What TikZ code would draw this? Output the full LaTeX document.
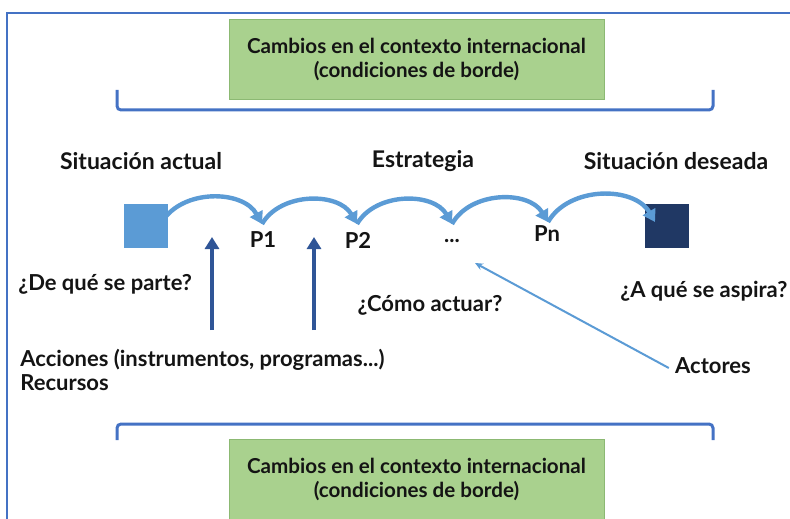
\documentclass[tikz,border=0pt]{standalone}
\usepackage{fontspec}
\setmainfont{Lato}
\usepackage{tikz}
\usetikzlibrary{arrows.meta,positioning}
\definecolor{rim}{RGB}{68,114,196}
\definecolor{leaf}{RGB}{169,209,142}
\definecolor{leafline}{RGB}{140,185,115}
\definecolor{sky}{RGB}{91,155,213}
\definecolor{navy}{RGB}{32,56,100}
\definecolor{deep}{RGB}{47,85,151}
\definecolor{ink}{RGB}{20,20,20}
\tikzset{
  band/.style={rectangle,draw=leafline,fill=leaf,minimum width=187.5pt,minimum height=40pt,
    align=center,font=\bfseries\fontsize{10.3}{12}\selectfont,text=ink,inner sep=0pt},
  hdr/.style={font=\bfseries\fontsize{11.5}{12}\selectfont,text=ink,inner sep=0pt},
  txt/.style={font=\bfseries\fontsize{11}{12}\selectfont,text=ink,inner sep=0pt},
  sq/.style={rectangle,minimum size=22pt,inner sep=0pt},
  hop/.style={-{Triangle[length=6pt,width=7pt]},line width=2.2pt,draw=sky},
  push/.style={-{Triangle[length=6pt,width=7pt]},line width=2.2pt,draw=deep},
  aim/.style={-{Stealth[length=4pt,width=3.5pt]},line width=1pt,draw=sky},
  brk/.style={line width=1.5pt,draw=rim,rounded corners=2pt},
}

\begin{document}
\begin{tikzpicture}[x=0.5pt,y=0.5pt]
\useasboundingbox (0,0) rectangle (790,-518);
\clip (0,0) rectangle (790,-518);
% frame and borders
\draw[line width=1pt,draw=rim] (7,-530) |- (800,-13);
\node[band] (topbox) at (416.5,-59) {Cambios en el contexto internacional\\(condiciones de borde)};
\draw[brk] (117,-90) |- (713,-110) -- (713,-90);
\draw[brk] (117,-440) |- (713,-424) -- (713,-440);
\node[band] (botbox) at (416.5,-479) {Cambios en el contexto internacional\\(condiciones de borde)};
% headings
\node[hdr] (actual) at (141,-161) {Situación actual};
\node[hdr] (estra) at (423,-161) {Estrategia};
\node[hdr] (deseada) at (676,-161) {Situación deseada};
% situations and steps
\node[sq,fill=sky] (start) at (145.5,-226) {};
\node[sq,fill=navy] (goal) at (667,-226) {};
\node[txt] (p1) at (263,-240) {P1};
\node[txt] (p2) at (358,-240) {P2};
\node[txt] (pdots) at (452,-241) {...};
\node[txt] (pn) at (547,-234) {Pn};
\coordinate (k0) at (162,-222);
\coordinate (k1) at (262,-224);
\coordinate (k2) at (357,-224);
\coordinate (k3) at (452,-224);
\coordinate (k4) at (548,-222);
\coordinate (k5) at (655,-222);
\foreach \a/\b in {k0/k1,k1/k2,k2/k3,k3/k4,k4/k5}
  \draw[hop] (\a) to[bend left=60] (\b);
% questions
\node[txt,anchor=west] (parte) at (18,-284) {¿De qué se parte?};
\node[txt] (como) at (430,-305) {¿Cómo actuar?};
\node[txt,anchor=west] (aspira) at (620,-291) {¿A qué se aspira?};
% actions and actors
\node[txt,anchor=north west,align=left] (acc) at (20,-349) {Acciones (instrumentos, programas...)\\[0pt]Recursos};
\coordinate (u1) at (212,-330);
\coordinate (t1) at (212,-237);
\coordinate (u2) at (314,-330);
\coordinate (t2) at (314,-237);
\draw[push] (u1) -- (t1);
\draw[push] (u2) -- (t2);
\node[txt] (actores) at (713,-366) {Actores};
\coordinate (dt) at (475,-263);
\draw[aim] ([xshift=-3pt,yshift=-1pt]actores.west) -- (dt);
\end{tikzpicture}
\end{document}
